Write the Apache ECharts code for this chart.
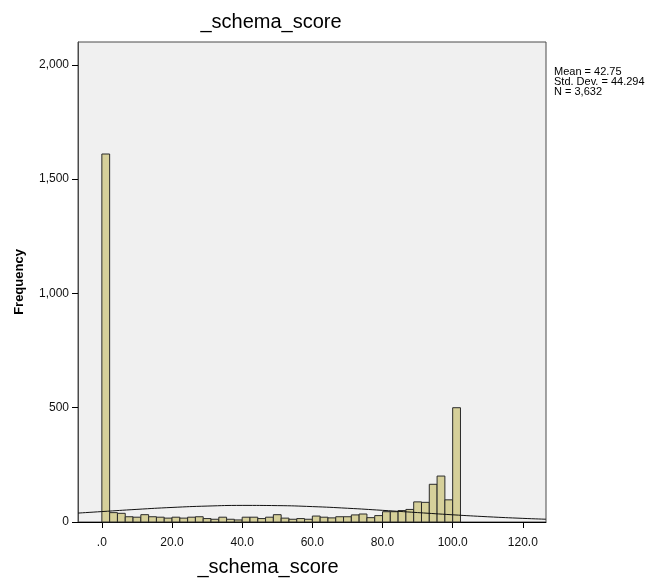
<!DOCTYPE html>
<html>
<head>
<meta charset="utf-8">
<script src="https://cdn.jsdelivr.net/npm/echarts@6/dist/echarts.min.js"></script>
<style>html,body{margin:0;padding:0;background:#fff;}#c{width:664px;height:586px;}</style>
</head>
<body>
<div id="c"></div>
<script>
// ---- data ----
const binWidth = 100 / 45;              // histogram bin width (units of _schema_score)
const binCounts = [1610, 41, 38, 23, 21, 32, 23, 21, 17, 21, 17, 21, 23, 15, 12, 21, 12, 9, 21, 21,
                   15, 21, 32, 17, 12, 15, 12, 26, 21, 18, 23, 23, 31, 35, 19, 28, 45, 45, 50, 55,
                   88, 86, 165, 201, 97, 500];
const curveX = [-6.8, 0, 10, 20, 30, 40, 50, 60, 70, 80, 90, 100, 110, 120, 126.6];
const curveY = [39, 45.6, 55.3, 63.7, 69.7, 72.6, 71.7, 67.4, 60.2, 51.0, 41.2, 31.5, 22.9, 15.9, 12.1];
const xTicks = [0, 20, 40, 60, 80, 100, 120];
const yTicks = [0, 500, 1000, 1500, 2000];
const statsLines = ['Mean = 42.75', 'Std. Dev. = 44.294', 'N = 3,632'];
const titleText = '_schema_score';
const xName = '_schema_score';
const yName = 'Frequency';

const barData = binCounts.map((v, i) => [i * binWidth, (i + 1) * binWidth, v]);
const curveData = curveX.map((x, i) => [x, curveY[i]]);

const FONT = 'Arial, "Liberation Sans", sans-serif';
const chart = echarts.init(document.getElementById('c'), null, {renderer: 'canvas'});
chart.setOption({
  animation: false,
  backgroundColor: '#ffffff',
  title: {
    text: titleText, left: 266, top: 7, textAlign: 'center',
    textStyle: {fontFamily: FONT, fontSize: 20, fontWeight: 'normal', color: '#000'}
  },
  grid: {
    left: 78, top: 42, width: 468, height: 480,
    show: true, backgroundColor: '#f0f0f0', borderColor: '#4a4a4a', borderWidth: 1
  },
  xAxis: {
    type: 'value', min: -6.8, max: 126.6,
    splitLine: {show: false},
    axisLine: {show: true, onZero: false, lineStyle: {color: '#000', width: 1}},
    axisTick: {show: true, length: 6, lineStyle: {color: '#000'}, customValues: xTicks},
    axisLabel: {
      customValues: xTicks, margin: 15, color: '#111', fontFamily: FONT, fontSize: 12,
      formatter: v => (v === 0 ? '.0' : v.toFixed(1))
    }
  },
  yAxis: {
    type: 'value', min: 0, max: 2100,
    name: yName, nameLocation: 'middle', nameGap: 52,
    nameTextStyle: {fontFamily: FONT, fontSize: 13, fontWeight: 'bold', color: '#000'},
    splitLine: {show: false},
    axisLine: {show: true, onZero: false, lineStyle: {color: '#4a4a4a', width: 1}},
    axisTick: {show: true, length: 6, lineStyle: {color: '#000'}, customValues: yTicks},
    axisLabel: {
      customValues: yTicks, margin: 9, color: '#111', fontFamily: FONT, fontSize: 12,
      formatter: v => v.toLocaleString('en-US')
    }
  },
  series: [
    {
      type: 'custom',
      data: barData,
      encode: {x: [0, 1], y: 2},
      renderItem: function (params, api) {
        const p0 = api.coord([api.value(0), api.value(2)]);
        const p1 = api.coord([api.value(1), 0]);
        return {
          type: 'rect',
          shape: {x: p0[0], y: p0[1], width: p1[0] - p0[0], height: p1[1] - p0[1]},
          style: {fill: '#d6d09a', stroke: '#2a2a2a', lineWidth: 1}
        };
      },
      z: 2
    },
    {
      type: 'line',
      data: curveData,
      smooth: true,
      showSymbol: false,
      lineStyle: {color: '#111', width: 1},
      z: 3
    }
  ],
  graphic: [
    {
      type: 'text', left: 554, top: 66,
      style: {text: statsLines.join('\n'), fontFamily: FONT, fontSize: 11, lineHeight: 10, fill: '#000'}
    },
    {
      type: 'text', x: 268, y: 567,
      style: {text: xName, fontFamily: FONT, fontSize: 20, fill: '#000', align: 'center', verticalAlign: 'middle'}
    }
  ]
});
</script>
</body>
</html>
